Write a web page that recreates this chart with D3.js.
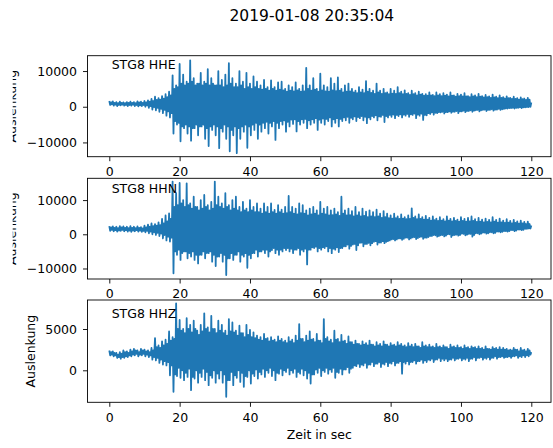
<!DOCTYPE html>
<html>
<head>
<meta charset="utf-8">
<script src="https://cdn.jsdelivr.net/npm/d3@7"></script>
<style>
  html, body { margin: 0; padding: 0; background: #fff; }
  svg { display: block; font-family: "DejaVu Sans", sans-serif; }
</style>
</head>
<body>
<svg id="chart" width="553" height="448"></svg>
<script>
// ---------- data (counts) ----------
// per second: peak maximum, peak minimum, and the edges of the dense core band
const title = "2019-01-08 20:35:04";
const channels = ["STG8 HHE", "STG8 HHN", "STG8 HHZ"];
const xTicks = [0, 20, 40, 60, 80, 100, 120];
const yTicksE = [-10000, 0, 10000];
const yTicksN = [-10000, 0, 10000];
const yTicksZ = [0, 5000];
const xLabel = "Zeit in sec";
const yLabel = "Auslenkung";

const hheHi = [1600,1500,1300,1400,1200,1300,1400,1300,1500,1400,1600,
  1800,2200,2800,2400,3000,3500,4200,8800,6000,12000,9000,7000,13000,8000,6500,9500,7000,10500,8000,
  6000,10000,7500,9000,12200,8000,6500,10000,7000,9500,6500,8500,7000,6000,7500,5500,7400,5500,6800,7000,
  5000,6000,5500,6800,5000,6000,10900,6000,8000,5000,9300,6000,5500,8000,6500,8200,5000,6000,6500,5000,
  4500,5500,4800,7200,5000,4500,6500,4500,5000,4000,5000,4500,5500,4200,4600,3800,4500,3800,4200,3600,
  3500,4000,3300,4000,3500,3800,3400,4000,3200,3600,3400,3800,3000,3500,3200,3600,3000,3300,2900,3400,
  2800,3200,2700,2900,2500,2800,2400,2600,2300,2500,1200];
const hheLo = [500,300,200,400,300,200,300,200,100,200,0,
  -300,-800,-1000,-1400,-1800,-2500,-3000,-7500,-5000,-9700,-6000,-7500,-9500,-6000,-8000,-5500,-9000,-11000,-6500,
  -8000,-11600,-7000,-9000,-12500,-8000,-13000,-9000,-7000,-11500,-8000,-6500,-9000,-7000,-6000,-7500,-5500,-9300,-6000,-5000,
  -7000,-5500,-4800,-6900,-5000,-4500,-6000,-5000,-4500,-6500,-4500,-5000,-4000,-5500,-4500,-5500,-4000,-3800,-4500,-3500,
  -4000,-3200,-3800,-4600,-3500,-3000,-3800,-2800,-4300,-3000,-2800,-3200,-2600,-3000,-2500,-2800,-2300,-3200,-2500,-3700,
  -2400,-2000,-2200,-1800,-1600,-1900,-1500,-1700,-1400,-1800,-1300,-1500,-1200,-1400,-1000,-1300,-900,-1200,-900,-1100,
  -800,-900,-600,-500,-400,-500,-300,-400,-200,-100,800];
const hheCoreHi = [1200,1100,1000,1100,1000,1100,1100,1000,1200,1100,1200,
  1400,1600,1900,2000,2300,2700,3200,
  5000,5500,6500,6000,6500,7000,6000,6500,6000,6500,6000,6500,6000,
  6000,5500,6000,6500,5500,5500,6000,5000,5500,5000,5500,5000,4800,5000,4500,
  5000,4500,4800,4600,4200,4500,4300,4600,4200,4300,5000,4500,4800,4200,4600,
  4300,4200,4600,4400,4500,4000,4200,4300,4000,3800,4000,3800,4200,3900,3600,4000,3600,3800,3500,3700,
  3600,3800,3500,3600,3300,3500,3200,3400,3100,3100,3200,3000,3200,3000,3100,2900,3100,2800,3000,2900,
  2900,2700,2900,2700,2800,2600,2700,2500,2600,2400,2500,2300,2400,2200,2200,2000,2100,1900,2000,1200];
const hheCoreLo = [700,600,500,600,500,500,600,500,400,500,400,
  200,-100,-300,-600,-900,-1300,-1800,
  -4000,-4500,-5500,-5000,-5500,-6000,-5000,-5500,-5000,-6000,-5500,-5000,-5500,
  -6000,-5000,-5500,-6500,-5500,-6000,-5500,-5000,-5500,-5000,-4500,-5000,-4500,-4200,-4500,
  -4000,-4500,-4000,-3800,-4200,-3600,-3500,-4000,-3500,-3400,-3800,-3500,-3200,-3600,-3300,
  -3400,-3000,-3500,-3200,-3400,-3000,-2800,-3100,-2700,-2900,-2600,-2800,-3000,-2600,-2400,-2700,-2300,-2600,-2300,-2200,
  -2300,-2100,-2200,-2000,-2100,-1900,-2200,-1900,-2300,-1800,-1600,-1700,-1500,-1400,-1500,-1300,-1400,-1200,-1300,-1100,
  -1200,-1000,-1100,-900,-1000,-800,-900,-700,-800,-600,-700,-500,-400,-300,-300,-200,-200,-100,0,700];

const hhnHi = [2400,2300,2200,2400,2300,2200,2400,2200,2300,2100,2500,
  2800,3200,3000,3500,4500,5500,6100,15400,12000,15000,10000,14900,9000,11000,8000,10000,11500,8500,9500,
  15400,11000,9000,12000,8500,10000,11000,8000,9500,7500,10000,8000,9000,7500,9000,8000,9000,7100,8500,7200,
  8000,11200,8000,7500,9000,8500,7000,7500,8000,7000,9500,7500,8000,7000,7500,6500,11000,7000,7500,6800,
  8000,6500,7500,6600,7000,6500,7200,6000,6800,6000,5500,6000,5200,5800,5000,5500,7600,5200,5800,5000,
  5400,4800,5200,4600,5000,4400,5200,4500,4800,4300,5000,4500,4800,5200,4400,4800,4300,4600,4200,5000,
  4200,4600,4000,4400,3900,4200,3800,4000,3600,3700,2600];
const hhnLo = [1000,900,800,1000,900,800,700,900,800,700,600,
  300,0,-200,-500,-1200,-1800,-2100,-11400,-6000,-7500,-5000,-7000,-6500,-7500,-8500,-6000,-7000,-5500,-8000,
  -9300,-6500,-8000,-11900,-7000,-7500,-6000,-8000,-6500,-9800,-7000,-5500,-6500,-5000,-5500,-6500,-4600,-5500,-6000,-5000,
  -4600,-5000,-5500,-4500,-6000,-5000,-8800,-4500,-4000,-5000,-4500,-4000,-5000,-5500,-4500,-5200,-4000,-3500,-4200,-3000,
  -4600,-2500,-3500,-2800,-3200,-2200,-3000,-2400,-2600,-2000,-1500,-1800,-1200,-1600,-1000,-1500,-900,-1400,-800,-1300,
  -1000,-500,-200,-700,-300,-600,0,-800,-200,-400,200,-300,100,-700,300,0,500,200,600,300,
  800,600,900,800,1200,900,1400,1200,1600,1700,2200];
const hhnCoreHi = [2000,1900,1800,2000,1900,1800,1900,1800,1900,1700,2000,
  2200,2400,2500,2700,3200,3800,4500,
  8000,8500,9000,8000,8500,7500,8000,7000,7500,8000,7000,7500,8500,
  8000,7500,8000,7000,7500,7000,6500,7000,6500,7000,6500,6500,6000,6500,6000,
  6500,6000,6500,6000,6200,6500,6000,5800,6200,6000,5500,5800,6000,5500,6000,
  5800,5500,5600,5800,5400,6000,5500,5600,5200,5500,5200,5400,5000,5200,5000,5200,4800,5000,4700,4600,
  4700,4500,4600,4400,4500,4800,4400,4500,4300,4300,4000,4100,3900,4000,3800,4000,3800,3900,3700,3900,
  3700,3800,3900,3600,3700,3500,3600,3500,3700,3400,3500,3300,3400,3200,3300,3100,3200,3000,3000,2400];
const hhnCoreLo = [1300,1200,1100,1300,1200,1100,1100,1200,1100,1000,1000,
  800,600,400,200,-200,-700,-1000,
  -5000,-4500,-5500,-5000,-5500,-5000,-6000,-6000,-5000,-5500,-5000,-6000,-6500,
  -5500,-6000,-7000,-5500,-6000,-5000,-6000,-5500,-6000,-5500,-4500,-5000,-4500,-4500,-5000,
  -4000,-4500,-4500,-4000,-4000,-4200,-4500,-4000,-4500,-4200,-4500,-3800,-3600,-4000,-3800,
  -3500,-4000,-4200,-3800,-4000,-3500,-3000,-3400,-2800,-3200,-2400,-2800,-2500,-2600,-2000,-2400,-2000,-2200,-1800,-1400,
  -1500,-1200,-1300,-1000,-1200,-800,-1100,-700,-1000,-800,-500,-300,-500,-200,-400,0,-300,-100,-200,100,
  -100,100,-200,300,200,500,300,600,400,800,700,900,900,1200,1100,1400,1300,1600,1700,2200];

const hhzHi = [2400,2300,2100,2200,2400,2300,2500,2600,2400,2600,2500,
  2400,2700,3900,3000,3500,3700,4700,4000,8100,6100,5000,6300,5500,6000,4800,5500,6900,5200,6600,
  5000,6000,5500,4800,6200,5800,4800,5400,4500,5500,4900,4600,4200,4000,4400,3900,4000,3700,4100,3800,
  3600,4000,3700,4200,5600,3800,4200,4700,3800,4400,3600,6200,4000,3700,4800,3800,4300,3600,4100,3400,
  3600,3200,3500,3300,3600,3100,3400,3200,3500,3100,3300,3100,3400,3200,3000,3300,3100,3200,2900,3400,
  3000,3100,2900,3200,2900,3000,2800,3100,2900,3000,2800,3000,2800,2900,2800,2900,2700,2900,2600,2800,
  2700,2800,2700,2600,2500,2700,2500,2700,2500,2600,2200];
const hhzLo = [1800,1700,1500,1400,1500,1600,1700,1800,1700,1800,1700,
  1600,1300,1200,900,700,600,-600,-2600,-700,-900,-1200,-800,-2400,-1000,-1500,-800,-1200,-1800,-900,
  -1500,-1000,-1500,-3200,-1200,-1800,-900,-1400,-2000,-800,-1600,-700,-1000,-500,-800,-300,-700,-1200,-400,-600,
  -200,-500,-300,-800,-400,-600,-1000,-1600,-500,-300,-700,-200,-400,-200,-900,-300,-500,100,-300,300,
  500,400,600,300,700,500,800,400,700,500,800,600,900,-400,800,700,1000,800,1100,900,
  1000,1200,1000,1300,1100,1200,1100,1300,1200,1400,1200,1300,1100,1400,1200,1500,1300,1400,1300,1500,
  1400,1600,1500,1600,1500,1700,1500,1600,1600,1700,2000];
const hhzCoreHi = [2200,2100,1900,2000,2200,2100,2300,2400,2200,2400,2300,2200,
  2400,2800,2700,3000,3200,3600,
  3800,5000,4800,4500,5000,4600,5000,4300,4700,5000,4600,5000,4500,
  4800,4500,4200,4700,4600,4200,4500,4000,4300,4000,3900,3700,3600,3800,3500,
  3600,3400,3600,3400,3300,3500,3300,3600,3800,3400,3600,3700,3400,3600,3300,
  3800,3500,3300,3700,3400,3500,3200,3400,3100,3200,3000,3100,3000,3100,2900,3000,2900,3100,2900,3000,
  2900,3000,2900,2800,2900,2800,2900,2700,2900,2800,2800,2700,2800,2700,2800,2600,2800,2700,2700,2600,
  2700,2600,2700,2600,2600,2500,2600,2500,2600,2500,2500,2500,2400,2400,2500,2300,2400,2300,2400,2100];
const hhzCoreLo = [1900,1800,1600,1600,1700,1800,1900,2000,1900,2000,1900,1800,
  1600,1500,1300,1100,1000,600,
  -500,300,0,-300,200,-800,0,-300,200,-200,-600,0,-400,
  0,-500,-1200,-200,-600,0,-300,-700,0,-400,100,-200,200,0,300,
  0,-300,200,0,300,0,200,-200,200,0,-300,-500,100,300,0,
  300,100,300,-200,200,100,400,200,600,800,700,900,700,1000,800,1000,800,1000,900,1100,
  900,1100,1000,1100,1000,1200,1100,1300,1200,1300,1400,1300,1500,1400,1400,1300,1500,1400,1500,1400,
  1500,1400,1600,1500,1600,1500,1600,1500,1700,1600,1700,1600,1700,1700,1800,1700,1800,1800,1900,2000];

// ---------- layout ----------
const svg = d3.select("#chart");
const W = 553;
const x = d3.scaleLinear().domain([-6.2, 125.6]).range([87.5, 551]);

const panels = [
  { name: channels[0], hi: hheHi, lo: hheLo, cHi: hheCoreHi, cLo: hheCoreLo, ticks: yTicksE, dom: [-14000, 14300], top: 55.7, bot: 156.7, labX: 16, clipLabel: true, nameY: 69.3 },
  { name: channels[1], hi: hhnHi, lo: hhnLo, cHi: hhnCoreHi, cLo: hhnCoreLo, ticks: yTicksN, dom: [-13070, 16370], top: 178.3, bot: 279, labX: 16, clipLabel: true, nameY: 192.7 },
  { name: channels[2], hi: hhzHi, lo: hhzLo, cHi: hhzCoreHi, cLo: hhzCoreLo, ticks: yTicksZ, dom: [-3874, 8511], top: 300, bot: 402.3, labX: 35.3, clipLabel: false, nameY: 318.3 }
];

svg.append("rect").attr("width", W).attr("height", 448).attr("fill", "#fff");

svg.append("defs").append("clipPath").attr("id", "labclip")
  .append("rect").attr("x", 12.7).attr("y", 0).attr("width", 100).attr("height", 448);

svg.append("text")
  .attr("x", 229.5).attr("y", 20.7)
  .attr("font-size", 15.5).attr("fill", "#000")
  .text(title);

const fmt = d => (d < 0 ? "\u2212" + Math.abs(d) : String(d));

panels.forEach((p) => {
  const y = d3.scaleLinear().domain(p.dom).range([p.bot, p.top]);
  const g = svg.append("g");

  // axes background (covers previous panel's tick labels where overlapping)
  g.append("rect")
    .attr("x", x.range()[0]).attr("y", p.top)
    .attr("width", x.range()[1] - x.range()[0]).attr("height", p.bot - p.top)
    .attr("fill", "#fff");

  // trace: per second -> peak max, peak min, core max, core min
  const pts = [];
  const n = p.hi.length;
  p.hi.forEach((v, i) => {
    pts.push([i, v]);
    if (i < n - 1) {
      pts.push([i + 0.25, p.lo[i]]);
      pts.push([i + 0.5, p.cHi[i]]);
      pts.push([i + 0.75, p.cLo[i]]);
    }
  });
  g.append("path")
    .datum(pts)
    .attr("fill", "none")
    .attr("stroke", "#1f77b4")
    .attr("stroke-width", 1.8)
    .attr("stroke-linejoin", "round")
    .attr("d", d3.line().x(d => x(d[0])).y(d => y(d[1])));

  // x axis
  const xa = g.append("g").attr("transform", `translate(0,${p.bot})`)
    .call(d3.axisBottom(x).tickValues(xTicks).tickSize(4.5).tickPadding(6).tickFormat(d3.format("d")));
  xa.select(".domain").remove();
  xa.selectAll("line").attr("stroke", "#000").attr("stroke-width", 0.9);
  xa.selectAll("text").attr("font-size", 12.5).attr("font-family", "DejaVu Sans").attr("fill", "#000");

  // y axis
  const ya = g.append("g").attr("transform", `translate(${x.range()[0]},0)`)
    .call(d3.axisLeft(y).tickValues(p.ticks).tickSize(4.5).tickPadding(6).tickFormat(fmt));
  ya.select(".domain").remove();
  ya.selectAll("line").attr("stroke", "#000").attr("stroke-width", 0.9);
  ya.selectAll("text").attr("font-size", 12.5).attr("font-family", "DejaVu Sans").attr("fill", "#000");

  // frame
  g.append("rect")
    .attr("x", x.range()[0]).attr("y", p.top)
    .attr("width", x.range()[1] - x.range()[0]).attr("height", p.bot - p.top)
    .attr("fill", "none").attr("stroke", "#000").attr("stroke-width", 0.9);

  // channel name
  g.append("text")
    .attr("x", 111.7).attr("y", p.nameY)
    .attr("font-size", 12.5).attr("fill", "#000")
    .text(p.name);

  // y label (partly cut off for the upper two panels, as in the original)
  const lg = g.append("g");
  if (p.clipLabel) lg.attr("clip-path", "url(#labclip)");
  lg.append("text")
    .attr("transform", `translate(${p.labX},${(p.top + p.bot) / 2}) rotate(-90)`)
    .attr("text-anchor", "middle")
    .attr("font-size", 12.5).attr("fill", "#000")
    .text(yLabel);
});

svg.append("text")
  .attr("x", (x.range()[0] + x.range()[1]) / 2).attr("y", 439.2)
  .attr("text-anchor", "middle")
  .attr("font-size", 12.5).attr("fill", "#000")
  .text(xLabel);
</script>
</body>
</html>
